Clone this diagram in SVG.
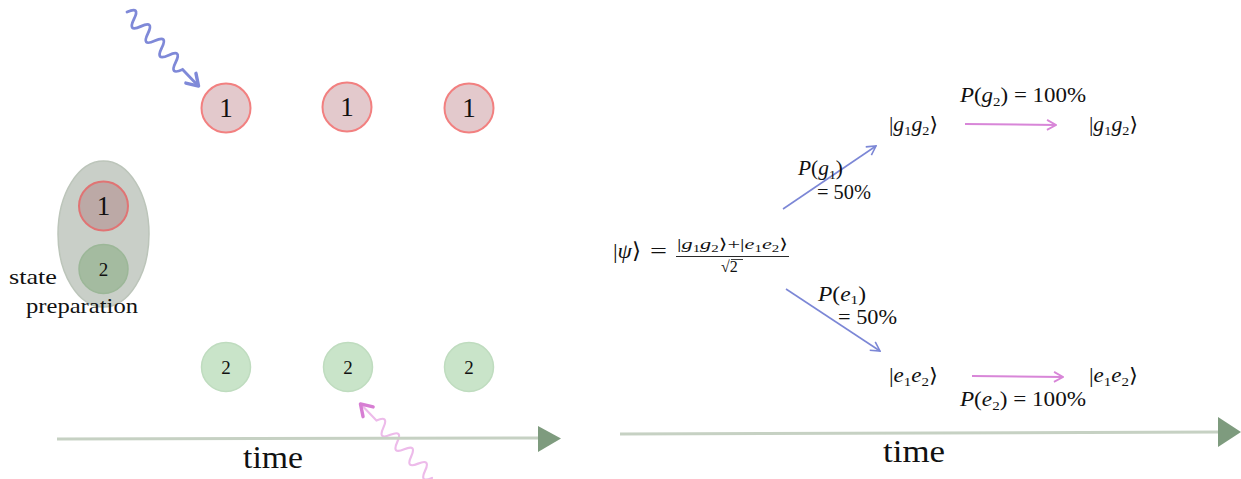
<svg xmlns="http://www.w3.org/2000/svg" width="1241" height="479" viewBox="0 0 1241 479">
<style>
text { font-family: "Liberation Serif", "DejaVu Serif", serif; fill:#111; }
.it { font-style: italic; }
.red { fill:#e3c9cc; stroke:#f28080; stroke-width:2; }
.grn { fill:#c9e4c9; stroke:#bfdcbf; stroke-width:1.5; }
.n1 { font-size:27px; text-anchor:middle; }
.n2 { font-size:19px; text-anchor:middle; }
.m { font-size:20px; }
.sub { font-size:13px; }
.blue { stroke:#7c87d6; stroke-width:1.6; fill:none; }
.pink { stroke:#d886d8; stroke-width:2; fill:none; }
.axis { stroke:#c6d1c3; stroke-width:3; fill:none; }
.tri { fill:#7e9b7e; }
</style>
<defs>
<marker id="ab" viewBox="0 0 12 12" refX="11" refY="6" markerWidth="12" markerHeight="12" markerUnits="userSpaceOnUse" orient="auto">
<path d="M2,1 L11,6 L2,11" fill="none" stroke="#7c87d6" stroke-width="1.6"/>
</marker>
<marker id="ap" viewBox="0 0 12 12" refX="11" refY="6" markerWidth="12" markerHeight="12" markerUnits="userSpaceOnUse" orient="auto">
<path d="M2,1 L11,6 L2,11" fill="none" stroke="#d886d8" stroke-width="1.8"/>
</marker>
</defs>

<!-- state preparation -->
<g id="prep">
<ellipse cx="103.5" cy="234" rx="45.5" ry="73" fill="#c9cfc8" stroke="#bcc5ba" stroke-width="1.5"/>
<circle cx="103.5" cy="206" r="24.5" fill="#bca9a6" stroke="#e07474" stroke-width="2"/>
<text class="n1" x="103.5" y="215">1</text>
<circle cx="103.5" cy="269" r="24.5" fill="#a4bba0" stroke="#9cb798" stroke-width="1.5"/>
<text class="n2" x="103.5" y="276">2</text>
<text x="9" y="284" style="font-size:22px" textLength="48" lengthAdjust="spacingAndGlyphs">state</text>
<text x="26" y="313" style="font-size:22px" textLength="112" lengthAdjust="spacingAndGlyphs">preparation</text>
</g>

<g id="r1"><circle class="red" cx="226" cy="108" r="24.5"/><text class="n1" x="226" y="117">1</text></g>
<g id="r2"><circle class="red" cx="347" cy="107" r="24.5"/><text class="n1" x="347" y="116">1</text></g>
<g id="r3"><circle class="red" cx="469" cy="108" r="24.5"/><text class="n1" x="469" y="117">1</text></g>

<g id="g1"><circle class="grn" cx="226" cy="367" r="24.5"/><text class="n2" x="226" y="374">2</text></g>
<g id="g2"><circle class="grn" cx="348" cy="367" r="24.5"/><text class="n2" x="348" y="374">2</text></g>
<g id="g3"><circle class="grn" cx="469" cy="367" r="24.5"/><text class="n2" x="469" y="374">2</text></g>

<!-- photons -->
<g id="photon-blue" transform="translate(127,12) rotate(46)">
<path d="M0,0 q5,-14 10,0 t10,0 t10,0 t10,0 t10,0 t10,0 t10,0 t10,0 L101,0" fill="none" stroke="#7f89d8" stroke-width="2.8" stroke-linecap="round"/>
<path d="M92,-7 L103,0 L92,7" fill="none" stroke="#7f89d8" stroke-width="3.4" stroke-linejoin="round" stroke-linecap="round"/>
</g>
<g id="photon-pink" transform="translate(432,478) rotate(226)">
<path d="M0,0 q5,-13 10,0 t10,0 t10,0 t10,0 t10,0 t10,0 t10,0 t10,0 L101,0" fill="none" stroke="#edbbea" stroke-width="2.2" stroke-linecap="round"/>
<path d="M92,-7 L103,0 L92,7" fill="none" stroke="#d77ed3" stroke-width="3.4" stroke-linejoin="round" stroke-linecap="round"/>
</g>

<!-- time axes -->
<g id="time-left">
<path class="axis" d="M57,439 L540,438"/>
<polygon class="tri" points="538,426 561,438.5 538,452"/>
<text x="243" y="468" style="font-size:31px" textLength="60" lengthAdjust="spacingAndGlyphs">time</text>
</g>
<g id="time-right">
<path class="axis" d="M620,434 L1220,432"/>
<polygon class="tri" points="1218,417 1241,432 1218,447"/>
<text x="883" y="462" style="font-size:31px" textLength="62" lengthAdjust="spacingAndGlyphs">time</text>
</g>

<!-- right: states -->
<g id="psi">
<text x="613" y="258" style="font-size:22px" textLength="28" lengthAdjust="spacingAndGlyphs">|<tspan class="it">ψ</tspan>⟩</text>
<text x="650" y="258" style="font-size:22px" textLength="17" lengthAdjust="spacingAndGlyphs">=</text>
<text x="677" y="249" style="font-size:15px" textLength="111" lengthAdjust="spacingAndGlyphs">|<tspan class="it">g</tspan><tspan style="font-size:10px" dy="3">1</tspan><tspan class="it" dy="-3">g</tspan><tspan style="font-size:10px" dy="3">2</tspan><tspan dy="-3">⟩+|</tspan><tspan class="it">e</tspan><tspan style="font-size:10px" dy="3">1</tspan><tspan class="it" dy="-3">e</tspan><tspan style="font-size:10px" dy="3">2</tspan><tspan dy="-3">⟩</tspan></text>
<line x1="676" y1="256.5" x2="789" y2="256.5" stroke="#111" stroke-width="0.9"/>
<text x="721" y="272" style="font-size:16px">√2</text>
<line x1="731" y1="259.5" x2="743" y2="259.5" stroke="#111" stroke-width="0.8"/>
</g>

<g id="k-g-mid"><text class="m" x="889" y="131" textLength="49" lengthAdjust="spacingAndGlyphs">|<tspan class="it">g</tspan><tspan class="sub" dy="4">1</tspan><tspan class="it" dy="-4">g</tspan><tspan class="sub" dy="4">2</tspan><tspan dy="-4">⟩</tspan></text></g>
<g id="k-g-end"><text class="m" x="1089" y="131" textLength="49" lengthAdjust="spacingAndGlyphs">|<tspan class="it">g</tspan><tspan class="sub" dy="4">1</tspan><tspan class="it" dy="-4">g</tspan><tspan class="sub" dy="4">2</tspan><tspan dy="-4">⟩</tspan></text></g>
<g id="k-e-mid"><text class="m" x="889" y="382" textLength="49" lengthAdjust="spacingAndGlyphs">|<tspan class="it">e</tspan><tspan class="sub" dy="4">1</tspan><tspan class="it" dy="-4">e</tspan><tspan class="sub" dy="4">2</tspan><tspan dy="-4">⟩</tspan></text></g>
<g id="k-e-end"><text class="m" x="1089" y="382" textLength="49" lengthAdjust="spacingAndGlyphs">|<tspan class="it">e</tspan><tspan class="sub" dy="4">1</tspan><tspan class="it" dy="-4">e</tspan><tspan class="sub" dy="4">2</tspan><tspan dy="-4">⟩</tspan></text></g>

<g id="connectors">
<line class="blue" x1="783" y1="209" x2="876" y2="146" marker-end="url(#ab)"/>
<line class="blue" x1="786" y1="289" x2="880" y2="351" marker-end="url(#ab)"/>
<line class="pink" x1="965" y1="124" x2="1056" y2="125" marker-end="url(#ap)"/>
<line class="pink" x1="972" y1="376" x2="1063" y2="377" marker-end="url(#ap)"/>
</g>

<g id="labels">
<text class="m" x="798" y="175" textLength="45" lengthAdjust="spacingAndGlyphs"><tspan class="it">P</tspan>(<tspan class="it">g</tspan><tspan class="sub" dy="4">1</tspan><tspan dy="-4">)</tspan></text>
<text class="m" x="817" y="199" textLength="54" lengthAdjust="spacingAndGlyphs">= 50%</text>
<text class="m" x="818" y="301" textLength="48" lengthAdjust="spacingAndGlyphs"><tspan class="it">P</tspan>(<tspan class="it">e</tspan><tspan class="sub" dy="3">1</tspan><tspan dy="-3">)</tspan></text>
<text class="m" x="838" y="324" textLength="59" lengthAdjust="spacingAndGlyphs">= 50%</text>
<text class="m" x="960" y="102" textLength="126" lengthAdjust="spacingAndGlyphs"><tspan class="it">P</tspan>(<tspan class="it">g</tspan><tspan class="sub" dy="4">2</tspan><tspan dy="-4">) = 100%</tspan></text>
<text class="m" x="960" y="406" textLength="126" lengthAdjust="spacingAndGlyphs"><tspan class="it">P</tspan>(<tspan class="it">e</tspan><tspan class="sub" dy="4">2</tspan><tspan dy="-4">) = 100%</tspan></text>
</g>
</svg>
